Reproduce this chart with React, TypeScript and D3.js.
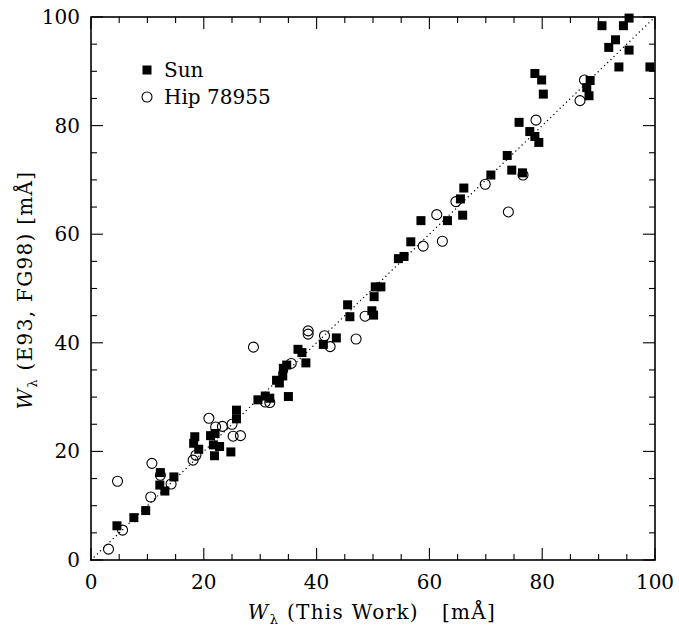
import React from "react";
import * as d3 from "d3";

// W_lambda comparison: this work (x) vs E93, FG98 (y), in mÅ
const sunPoints: [number, number][] = [
	[4.6, 6.3], [7.6, 7.8], [9.7, 9.1], [12.3, 16.1], [12.2, 13.8], [13.1, 12.7],
	[14.7, 15.3], [18.4, 22.7], [18.2, 21.5], [19.1, 20.4], [21.2, 22.9], [22.0, 23.3],
	[21.7, 21.2], [21.9, 19.2], [22.8, 20.9], [24.8, 19.9], [25.8, 27.6], [25.8, 26.0],
	[29.6, 29.5], [30.9, 30.2], [31.7, 29.8], [35.0, 30.1], [32.9, 33.1], [33.4, 32.6],
	[34.0, 33.9], [34.1, 35.3], [34.7, 35.9], [36.7, 38.8], [37.4, 38.2], [38.1, 36.3],
	[41.2, 39.7], [43.5, 40.9], [45.5, 47.0], [45.9, 44.8], [49.8, 45.9], [50.1, 45.1],
	[50.2, 48.5], [50.4, 50.3], [51.4, 50.3], [54.5, 55.5], [55.5, 55.9], [56.7, 58.6],
	[58.5, 62.5], [63.2, 62.5], [65.9, 63.5], [65.5, 66.5], [66.1, 68.5], [70.9, 70.9],
	[73.8, 74.5], [74.6, 71.8], [76.5, 71.3], [75.9, 80.6], [77.8, 78.9], [78.7, 78.0],
	[79.4, 76.9], [78.7, 89.6], [79.9, 88.4], [80.2, 85.8], [87.9, 87.0], [88.5, 88.3],
	[88.3, 85.5], [90.6, 98.4], [91.8, 94.4], [93.0, 95.8], [93.6, 90.8], [94.4, 98.4],
	[95.4, 99.8], [95.4, 93.9], [99.1, 90.8],
];

const hipPoints: [number, number][] = [
	[3.1, 2.0], [5.6, 5.5], [4.7, 14.5], [10.6, 11.6], [10.8, 17.8], [12.3, 15.6],
	[14.2, 14.0], [18.1, 18.4], [18.6, 19.3], [20.9, 26.1], [22.1, 24.5], [23.3, 24.6],
	[25.0, 25.0], [25.2, 22.8], [26.5, 22.9], [28.8, 39.2], [30.9, 29.1], [31.7, 29.0],
	[35.5, 36.2], [38.5, 42.2], [38.5, 41.6], [41.4, 41.3], [42.4, 39.3], [47.0, 40.7],
	[48.6, 44.9], [58.9, 57.8], [61.3, 63.6], [62.3, 58.7], [64.7, 66.0], [69.9, 69.2],
	[74.0, 64.1], [76.6, 70.9], [78.9, 81.0], [86.7, 84.6], [87.5, 88.4],
];

const majorTicks = [0, 20, 40, 60, 80, 100];
const minorTicks = d3.range(0, 101, 5);
const legendItems = ["Sun", "Hip 78955"];

const W = 679;
const H = 626;
const margin = { left: 91, right: 24, top: 17, bottom: 66 };
const FONT = "'DejaVu Serif', serif";

export default function App() {
	const x = d3.scaleLinear().domain([0, 100]).range([margin.left, W - margin.right]);
	const y = d3.scaleLinear().domain([0, 100]).range([H - margin.bottom, margin.top]);
	const [x0, x1] = x.range();
	const [y0, y1] = y.range();
	const sq = 9;
	const r = 5;

	return (
		<svg
			width={W}
			height={H}
			style={{ position: "absolute", left: 0, top: 0, background: "#fff" }}
			fontFamily={FONT}
		>
			{/* one-to-one line */}
			<line
				x1={x(0)} y1={y(0)} x2={x(100)} y2={y(100)}
				stroke="#000" strokeWidth={1.3} strokeDasharray="0.1,4.3" strokeLinecap="round"
			/>

			{/* ticks on all four sides */}
			{minorTicks.map((t) => {
				const len = t % 20 === 0 ? 12 : 6;
				return (
					<g key={t} stroke="#000" strokeWidth={1.1}>
						<line x1={x(t)} x2={x(t)} y1={y0} y2={y0 - len} />
						<line x1={x(t)} x2={x(t)} y1={y1} y2={y1 + len} />
						<line x1={x0} x2={x0 + len} y1={y(t)} y2={y(t)} />
						<line x1={x1} x2={x1 - len} y1={y(t)} y2={y(t)} />
					</g>
				);
			})}
			<rect x={x0} y={y1} width={x1 - x0} height={y0 - y1} fill="none" stroke="#000" strokeWidth={1.6} />

			{/* tick labels */}
			{majorTicks.map((t) => (
				<text key={"x" + t} x={x(t)} y={y0 + 29} textAnchor="middle" fontSize={20}>{t}</text>
			))}
			{majorTicks.map((t) => (
				<text key={"y" + t} x={x0 - 11} y={y(t) + 7} textAnchor="end" fontSize={20}>{t}</text>
			))}

			{/* axis titles */}
			<text x={372} y={619} textAnchor="middle" fontSize={20} letterSpacing={1.3}>
				<tspan fontStyle="italic">W</tspan>
				<tspan fontSize={13} dy={5}>λ</tspan>
				<tspan dy={-5}>{" (This Work)\u00a0\u00a0\u00a0[mÅ]"}</tspan>
			</text>
			<text transform="translate(32,290) rotate(-90)" textAnchor="middle" fontSize={20} letterSpacing={1.3}>
				<tspan fontStyle="italic">W</tspan>
				<tspan fontSize={13} dy={5}>λ</tspan>
				<tspan dy={-5}>{" (E93, FG98) [mÅ]"}</tspan>
			</text>

			{/* data */}
			{sunPoints.map(([a, b], i) => (
				<rect key={"s" + i} x={x(a) - sq / 2} y={y(b) - sq / 2} width={sq} height={sq} fill="#000" />
			))}
			{hipPoints.map(([a, b], i) => (
				<circle key={"h" + i} cx={x(a)} cy={y(b)} r={r} fill="none" stroke="#000" strokeWidth={1.1} />
			))}

			{/* legend */}
			<rect x={147 - sq / 2} y={70 - sq / 2} width={sq} height={sq} fill="#000" />
			<circle cx={147} cy={97} r={r} fill="none" stroke="#000" strokeWidth={1.1} />
			<text x={164} y={77} fontSize={20}>{legendItems[0]}</text>
			<text x={164} y={104} fontSize={20}>{legendItems[1]}</text>
		</svg>
	);
}
